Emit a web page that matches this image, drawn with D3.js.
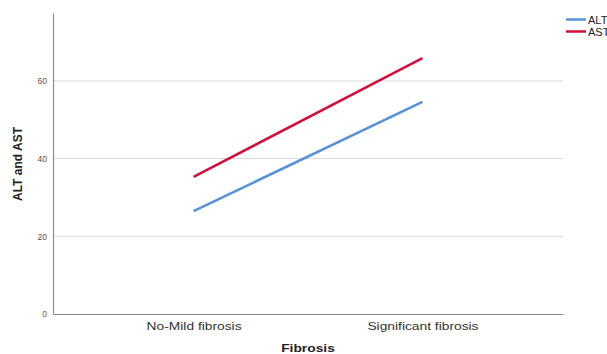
<!DOCTYPE html>
<html><head><meta charset="utf-8">
<script src="https://cdn.jsdelivr.net/npm/d3@7"></script>
<style>body{margin:0;background:#fff}svg{display:block;font-family:"Liberation Sans",Arial,sans-serif}</style>
</head><body><svg id="c" width="607" height="354"></svg>
<script>
const categories = ["No-Mild fibrosis", "Significant fibrosis"];
const altValues = [26.5, 54.6];
const astValues = [35.3, 65.9];
const yTicks = [0, 20, 40, 60];
const seriesNames = ["ALT", "AST"];
const seriesColors = ["#5592d9", "#d0103a"];

(function () {
const svg = d3.select("#c");
const mLeft = 53, mRight = 563, mTop = 13, mBottom = 314;
const x = d3.scalePoint().domain(categories).range([mLeft, mRight]).padding(0.614);
const y = d3.scaleLinear().domain([0, 77.5]).range([mBottom, mTop]);

// gridlines
svg.append("g").selectAll("line").data(yTicks.filter(d => d > 0)).join("line")
  .attr("x1", mLeft).attr("x2", mRight).attr("y1", d => y(d)).attr("y2", d => y(d))
  .attr("stroke", "#d9d9d9").attr("stroke-width", 1);

// y axis
const yAxis = d3.axisLeft(y).tickValues(yTicks).tickSize(0).tickPadding(6).tickFormat(d3.format("d"));
const gy = svg.append("g").attr("transform", `translate(${mLeft},0)`).call(yAxis);
gy.select(".domain").attr("stroke", "#8c8c8c").attr("stroke-width", 1.2);
gy.selectAll("text").attr("font-size", 8.5).attr("fill", "#555").attr("font-family", "Liberation Sans, Arial, sans-serif");

// x axis
const xAxis = d3.axisBottom(x).tickSize(0).tickPadding(8);
const gx = svg.append("g").attr("transform", `translate(0,${mBottom})`).call(xAxis);
gx.select(".domain").attr("stroke", "#8c8c8c").attr("stroke-width", 1.2);
gx.selectAll("text").attr("font-size", 11.5).attr("fill", "#333")
  .attr("font-family", "Liberation Sans, Arial, sans-serif").attr("transform", "scale(1.2,1)");

// lines
const line = d3.line().x((d, i) => x(categories[i])).y(d => y(d));
[altValues, astValues].forEach((vals, i) => {
  svg.append("path").datum(vals).attr("d", line).attr("fill", "none")
    .attr("stroke", seriesColors[i]).attr("stroke-width", 2.5);
});

// axis titles
svg.append("text").attr("transform", `translate(22,164) rotate(-90)`)
  .attr("text-anchor", "middle").attr("font-size", 12).attr("font-weight", "bold").attr("fill", "#222")
  .text("ALT and AST");
svg.append("text").attr("transform", `translate(${(mLeft + mRight) / 2},352) scale(1.2,1)`)
  .attr("text-anchor", "middle").attr("font-size", 11.5).attr("font-weight", "bold").attr("fill", "#222")
  .text("Fibrosis");

// legend
const lg = svg.append("g");
seriesNames.forEach((n, i) => {
  const ly = 19.5 + i * 12;
  lg.append("line").attr("x1", 566).attr("x2", 586).attr("y1", ly).attr("y2", ly)
    .attr("stroke", seriesColors[i]).attr("stroke-width", 2.5);
  lg.append("text").attr("x", 588).attr("y", ly + 4).attr("font-size", 11).attr("fill", "#222").text(n);
});
})();
</script></body></html>
